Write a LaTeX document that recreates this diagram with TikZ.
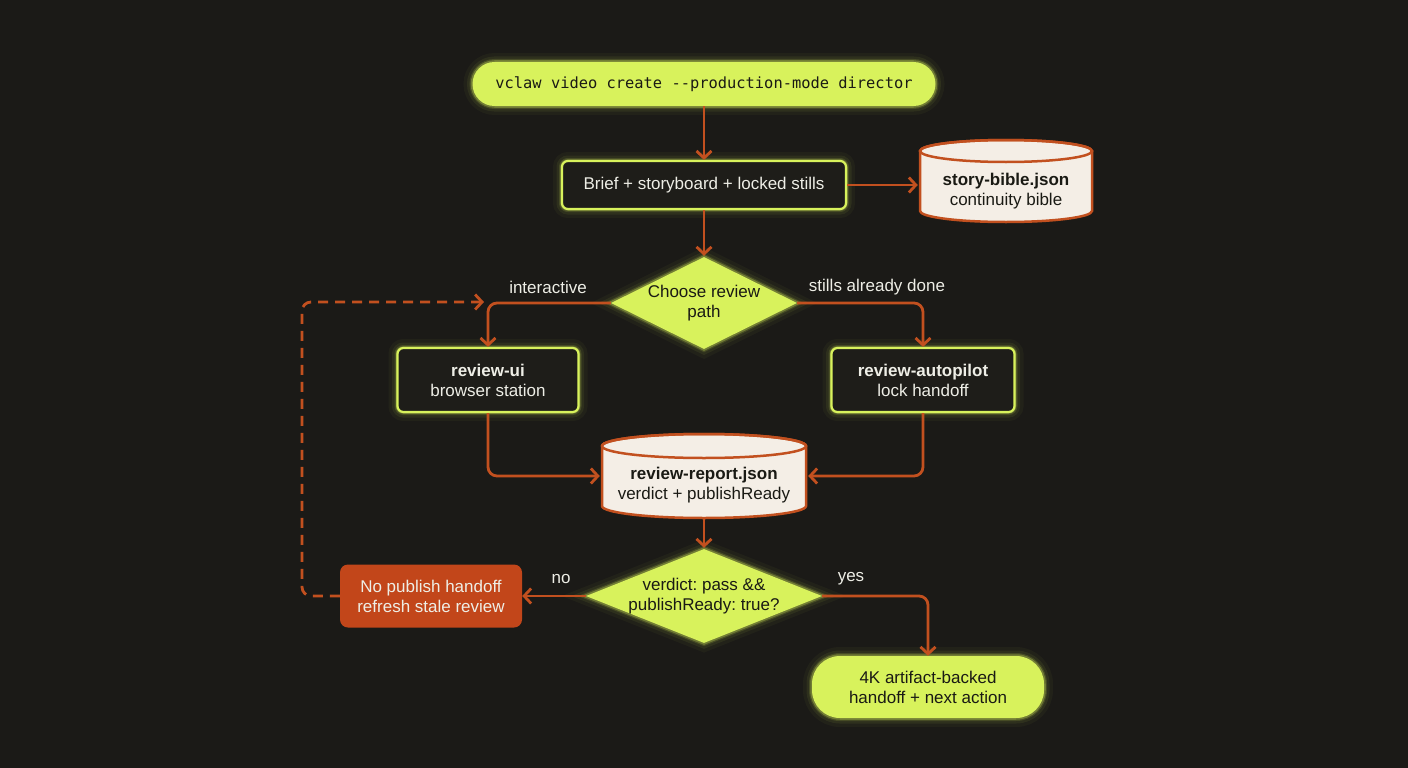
\documentclass[tikz,border=0pt]{standalone}
\usepackage{fontspec}
\setmainfont{Liberation Sans}
\setmonofont{DejaVu Sans Mono}
\usetikzlibrary{shapes.geometric,arrows.meta}
\definecolor{bg}{HTML}{1B1A17}
\definecolor{lime}{HTML}{D8F25C}
\definecolor{org}{HTML}{C2501F}
\definecolor{orgfill}{HTML}{C2461A}
\definecolor{cream}{HTML}{F4EEE6}
\definecolor{boxfill}{HTML}{1E1D19}
\definecolor{txt}{HTML}{EEEEE6}
\definecolor{dtxt}{HTML}{1A1A14}
\frenchspacing
\tikzset{
  glow/.style={preaction={draw=lime,line width=18pt,opacity=0.04},
               preaction={draw=lime,line width=11pt,opacity=0.07},
               preaction={draw=lime,line width=6pt,opacity=0.14},
               preaction={draw=lime,line width=3.5pt,opacity=0.3}},
  pill/.style={rectangle, rounded corners=#1, fill=lime, text=dtxt, glow, align=center, inner sep=0pt},
  darkbox/.style={rectangle, rounded corners=6pt, draw=lime, line width=2.2pt, fill=boxfill, text=txt, glow, align=center, inner sep=0pt},
  decision/.style={diamond, fill=lime, text=dtxt, glow, align=center, inner sep=0pt, aspect=2},
  cyltext/.style={rectangle, text=dtxt, align=center, inner sep=0pt},
  cylshape/.style={draw=org, line width=2.5pt, fill=cream},
  orgbox/.style={rectangle, rounded corners=8pt, fill=orgfill, text=txt, align=center, inner sep=0pt},
  lbl/.style={text=txt, inner sep=0pt},
  conn/.style={draw=org, line width=2.8pt, rounded corners=9pt, -{Straight Barb[length=7pt,width=15pt,line width=2.8pt]}},
}
% cylinder: centre x, top y, bottom y, half width, ellipse radius
\newcommand{\mycyl}[5]{%
  \path[cylshape] (#1-#4,#2+#5) -- (#1-#4,#3-#5)
     arc[start angle=180, end angle=0, x radius=#4, y radius=#5]
     -- (#1+#4,#2+#5)
     arc[start angle=0, end angle=-180, x radius=#4, y radius=#5] -- cycle;
  \draw[draw=org, line width=2.5pt] (#1,#2+#5) ellipse[x radius=#4, y radius=#5];
}
\begin{document}
\begin{tikzpicture}[x=1pt,y=-1pt,font=\fontsize{17}{20}\selectfont]
\fill[bg] (0,0) rectangle (1408,768);
\useasboundingbox (0,0) rectangle (1408,768);

\mycyl{1006}{140}{222}{86}{11}
\mycyl{704}{434}{518}{102}{12}

\node[pill=22pt, minimum width=463pt, minimum height=44pt, font=\ttfamily\fontsize{15.4}{18}\selectfont] (start) at (704,84) {vclaw video create --production-mode director};
\node[darkbox, minimum width=284pt, minimum height=48pt] (brief) at (704,185) {Brief + storyboard + locked stills};
\node[cyltext, minimum width=172pt, minimum height=60pt] (bible) at (1006,191) {\textbf{story-bible.json}\\continuity bible};
\node[decision, minimum width=186pt, minimum height=92pt] (choose) at (704,303) {Choose review\\path};
\node[darkbox, minimum width=181pt, minimum height=64pt] (rui) at (488,380) {\textbf{review-ui}\\browser station};
\node[darkbox, minimum width=183pt, minimum height=64pt] (rap) at (923,380) {\textbf{review-autopilot}\\lock handoff};
\node[cyltext, minimum width=204pt, minimum height=62pt] (report) at (704,485) {\textbf{review-report.json}\\verdict + publishReady};
\node[decision, aspect=2.5, inner sep=-6pt, minimum width=236pt, minimum height=94pt] (verdict) at (704,596) {verdict: pass \&\&\\publishReady: true?};
\node[orgbox, minimum width=182pt, minimum height=63pt] (nopub) at (431,596) {No publish handoff\\refresh stale review};
\node[pill=28pt, minimum width=232pt, minimum height=62pt] (final) at (928,687) {4K artifact-backed\\handoff + next action};

\node[lbl] (linter) at (548,287) {interactive};
\node[lbl] (lstill) at (877,287) {stills already done};
\node[lbl] (lno) at (561,579) {no};
\node[lbl] (lyes) at (851,579) {yes};

\coordinate (lc1) at (302,596);
\coordinate (lc2) at (302,302);
\coordinate (lc3) at (484,302);

\draw[conn] (start) -- (brief);
\draw[conn] (brief.east) -- ([xshift=-2pt]bible.west |- brief.east);
\draw[conn] (brief) -- ([yshift=1pt]choose.north);
\draw[conn] (choose.west) -| (rui.north);
\draw[conn] (choose.east) -| (rap.north);
\draw[conn] (rui.south) |- ([yshift=9pt,xshift=-2pt]report.west);
\draw[conn] (rap.south) |- ([yshift=9pt,xshift=2pt]report.east);
\draw[conn] ([yshift=-3pt]report.south) -- ([yshift=1pt]verdict.north);
\draw[conn] (verdict.west) -- (nopub.east);
\draw[conn] (verdict.east) -| (final.north);
\draw[conn, dashed, dash pattern=on 10pt off 7pt] (nopub.west) -- (lc1) -- (lc2) -- (lc3);
\end{tikzpicture}
\end{document}
